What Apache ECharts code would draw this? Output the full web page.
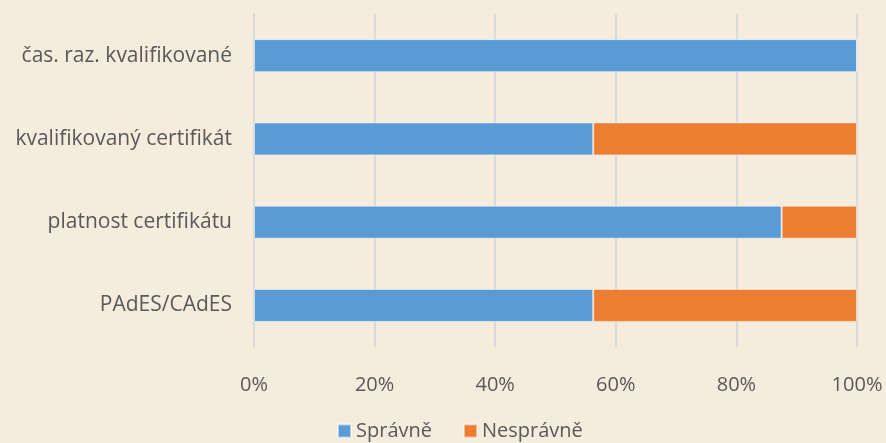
<!DOCTYPE html>
<html><head><meta charset="utf-8">
<script src="https://cdn.jsdelivr.net/npm/echarts@6/dist/echarts.min.js"></script>
<style>html,body{margin:0;padding:0;background:#F6ECDD;}#c{width:886px;height:443px;}</style>
</head><body><div id="c"></div>
<script>
const categories = ["PAdES/CAdES", "platnost certifikátu", "kvalifikovaný certifikát", "čas. raz. kvalifikované"];
const spravne = [56.25, 87.5, 56.25, 100];
const nespravne = [43.75, 12.5, 43.75, 0];
const seriesNames = ["Správně", "Nesprávně"];
const FONT = "Open Sans";
const chart = echarts.init(document.getElementById('c'), null, {renderer: 'canvas'});
chart.setOption({
  backgroundColor: '#F6ECDD',
  animation: false,
  grid: {left: 254, right: 29, top: 14, bottom: 96},
  xAxis: {
    type: 'value', min: 0, max: 100, interval: 20,
    axisLine: {show: false}, axisTick: {show: false},
    splitLine: {lineStyle: {color: '#D9D9D9', width: 2}},
    axisLabel: {formatter: v => v + '%', color: '#595959', fontFamily: FONT, fontSize: 20, margin: 28}
  },
  yAxis: {
    type: 'category', data: categories,
    axisLine: {show: true, lineStyle: {color: '#D9D9D9', width: 2}}, axisTick: {show: false},
    axisLabel: {color: '#595959', fontFamily: FONT, fontSize: 21, margin: 22}
  },
  legend: {
    bottom: -3, left: 332, itemWidth: 13, itemHeight: 13, itemGap: 31,
    icon: 'rect',
    textStyle: {color: '#595959', fontFamily: FONT, fontSize: 20},
    data: seriesNames
  },
  series: [
    {name: seriesNames[0], type: 'bar', stack: 'a', data: spravne, barWidth: 33,
     itemStyle: {color: '#5B9BD5', borderColor: 'rgba(255,255,255,0.5)', borderWidth: 1}},
    {name: seriesNames[1], type: 'bar', stack: 'a', data: nespravne, barWidth: 33,
     itemStyle: {color: '#ED7D31', borderColor: 'rgba(255,255,255,0.5)', borderWidth: 1}}
  ]
});
</script></body></html>
